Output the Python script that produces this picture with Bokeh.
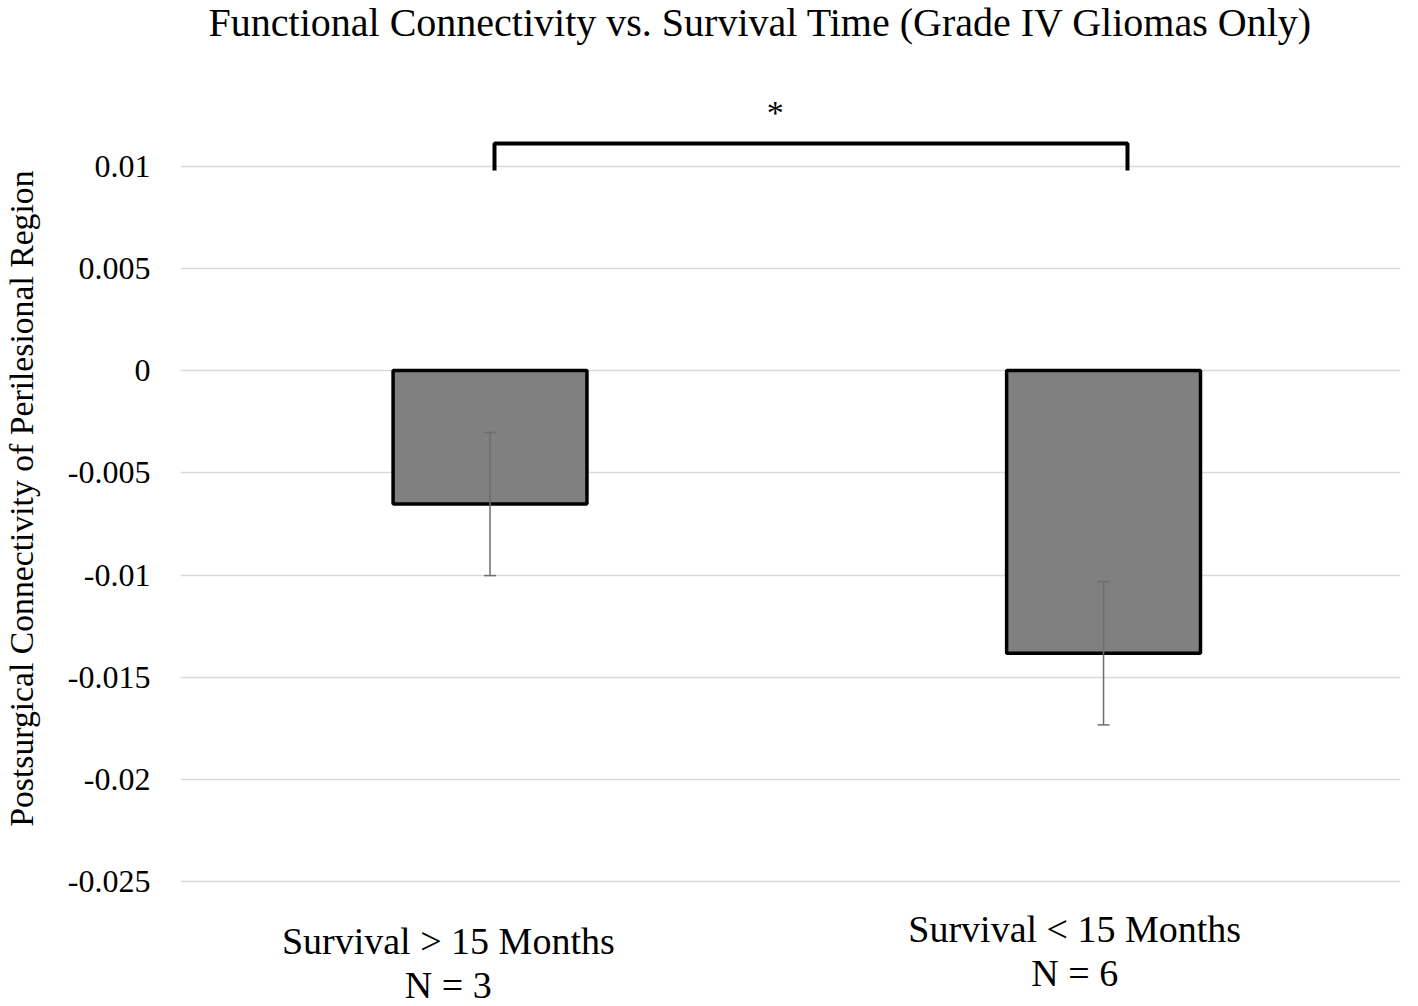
from bokeh.plotting import figure
from bokeh.models import ColumnDataSource, Whisker, TeeHead, Label, FixedTicker, Range1d, Title
from bokeh.embed import file_html
from bokeh.resources import INLINE

title_text = "Functional Connectivity vs. Survival Time (Grade IV Gliomas Only)"
y_title = "Postsurgical Connectivity of Perilesional Region"
categories = ["Survival > 15 Months", "Survival < 15 Months"]
n_labels = ["N = 3", "N = 6"]
positions = [1, 2]
means = [-0.00653, -0.01383]
errors = [0.0035, 0.0035]
y_ticks = [0.01, 0.005, 0, -0.005, -0.01, -0.015, -0.02, -0.025]
y_tick_labels = ["0.01", "0.005", "0", "-0.005", "-0.01", "-0.015", "-0.02", "-0.025"]
significance = "*"

FONT = "Liberation Serif"

p = figure(width=1410, height=1006, output_backend="svg", toolbar_location=None,
           x_range=Range1d(0.4955, 2.484), y_range=Range1d(-0.0311, 0.018093),
           min_border_left=180, min_border_right=10, min_border_bottom=0, min_border_top=0)
p.outline_line_color = None
p.background_fill_color = "white"
p.border_fill_color = "white"

p.xaxis.visible = False
p.xgrid.visible = False
p.ygrid.grid_line_color = "#d9d9d9"
p.ygrid.grid_line_width = 1.5
p.yaxis.ticker = FixedTicker(ticks=y_ticks)
p.yaxis.major_label_overrides = {t: l for t, l in zip(y_ticks, y_tick_labels)}
p.yaxis.axis_line_color = None
p.yaxis.major_tick_line_color = None
p.yaxis.minor_tick_line_color = None
p.yaxis.major_label_text_font = FONT
p.yaxis.major_label_text_font_size = "32px"
p.yaxis.major_label_text_color = "black"
p.yaxis.major_label_standoff = 24
p.yaxis.axis_label = " "
p.yaxis.axis_label_text_font_size = "1px"
p.yaxis.axis_label_standoff = 21

# y-axis title: aligned so it spans the same vertical extent as the reference
ytitle = Title(text=y_title, align="right", offset=170, text_font=FONT,
               text_font_size="33.7px", text_font_style="normal", text_color="black",
               standoff=0)
p.add_layout(ytitle, "left")

# chart title drawn inside the extended frame, centred over the plot
p.add_layout(Label(x=1.4409, y=0.01702, text=title_text, text_font=FONT,
                   text_font_size="40px", text_align="center", text_baseline="middle",
                   text_color="black"))

src = ColumnDataSource(dict(x=positions, top=[0, 0], bottom=means,
                            upper=[m + e for m, e in zip(means, errors)],
                            lower=[m - e for m, e in zip(means, errors)]))
p.vbar(x="x", top="top", bottom="bottom", width=0.316, source=src,
       fill_color="#808080", line_color="black", line_width=3.5)

w = Whisker(base="x", upper="upper", lower="lower", source=src, level="overlay",
            line_color="#6e6e6e", line_width=1.5,
            upper_head=TeeHead(size=12, line_color="#6e6e6e", line_width=1.5),
            lower_head=TeeHead(size=12, line_color="#6e6e6e", line_width=1.5))
p.add_layout(w)

# significance bracket
bx = [positions[0] + 0.0073, positions[0] + 0.0073, positions[1] + 0.039, positions[1] + 0.039]
by = [0.00978, 0.0111, 0.0111, 0.00978]
p.line(bx, by, line_color="black", line_width=4)
star = Label(x=1.465, y=0.0126, text=significance, text_font=FONT, text_font_size="34px",
             text_align="center", text_baseline="middle", text_color="black")
p.add_layout(star)

label_x = [0.932, 1.953]
label_y1 = [-0.027873, -0.027286]
label_y2 = [-0.030073, -0.029438]
for i in range(2):
    p.add_layout(Label(x=label_x[i], y=label_y1[i], text=categories[i], text_font=FONT,
                       text_font_size="38px", text_align="center", text_baseline="middle",
                       text_color="black"))
    p.add_layout(Label(x=label_x[i], y=label_y2[i], text=n_labels[i], text_font=FONT,
                       text_font_size="38px", text_align="center", text_baseline="middle",
                       text_color="black"))

open("out.html", "w").write(file_html(p, INLINE))
